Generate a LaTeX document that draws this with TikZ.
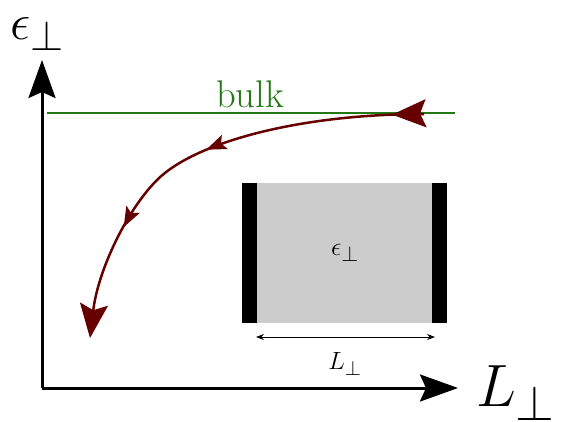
\documentclass[tikz,border=0pt]{standalone}
\usepackage{graphicx}
\usetikzlibrary{arrows.meta,decorations.markings}
\definecolor{bulkgreen}{RGB}{34,120,20}
\definecolor{flowred}{RGB}{102,0,0}
\definecolor{boxgray}{RGB}{204,204,204}
\newcommand{\bigtxt}[2]{\scalebox{#1}{\fontsize{24.88}{30}\selectfont #2}}
\begin{document}
\begin{tikzpicture}[x=1pt,y=-1pt,
  axis/.style={line width=3pt,-{Stealth[length=38pt,width=27pt,inset=6pt]}},
  flow/.style={flowred,line width=2.5pt},
  flowarrows/.style={postaction={decorate},decoration={markings,
     mark=at position 32pt with {\arrow{Stealth[length=34pt,width=28pt,inset=6pt]}},
     mark=at position 222pt with {\arrow{Stealth[length=20pt,width=15pt,inset=4pt]}},
     mark=at position 338pt with {\arrow{Stealth[length=20pt,width=15pt,inset=4pt]}}}},
  bar/.style={fill=black,inner sep=0pt,minimum width=15pt,minimum height=140pt},
  lab/.style={inner sep=0pt}]
\useasboundingbox (0,0) rectangle (563,421);
% axes
\coordinate (O) at (42,388);
\coordinate (ytip) at (42,60);
\coordinate (xtip) at (458,388);
\draw[axis] (O) -- (ytip);
\draw[axis] (O) -- (xtip);
\node[lab,anchor=base west] (ylab) at (10,39) {\bigtxt{2.05}{$\epsilon_\perp$}};
\node[lab,anchor=base west] (xlab) at (476,406) {\bigtxt{2.4}{$L_\perp$}};
% bulk line
\coordinate (g1) at (47,113);
\coordinate (g2) at (455,113);
\draw[bulkgreen,line width=1.5pt] (g1) -- (g2);
\node[lab,anchor=base,text=bulkgreen] (bulk) at (250,107) {\bigtxt{1.55}{bulk}};
% flow curve
\coordinate (c0) at (424,114);
\coordinate (cm) at (157,180);
\coordinate (c1) at (90,338);
\draw[flow,flowarrows,-{Stealth[length=34pt,width=28pt,inset=6pt]}]
  (c0) .. controls (300,114) and (195,142) .. (cm)
       .. controls (127,210) and (98,270) .. (c1);
% box
\node[fill=boxgray,inner sep=0pt,minimum width=205pt,minimum height=140pt] (box) at (344.5,253) {};
\node[bar,anchor=west] (lbar) at (box.west) {};
\node[bar,anchor=east] (rbar) at (box.east) {};
\node[lab] (eps) at (345,253) {\bigtxt{1.05}{$\epsilon_\perp$}};
\coordinate (d1) at (256,337);
\coordinate (d2) at (435,337);
\draw[line width=1pt,{Stealth[length=8pt,width=6pt]}-{Stealth[length=8pt,width=6pt]}] (d1) -- (d2);
\node[lab] (Llab) at (345,364) {\fontsize{24.88}{28}\selectfont$L_\perp$};
\end{tikzpicture}
\end{document}
